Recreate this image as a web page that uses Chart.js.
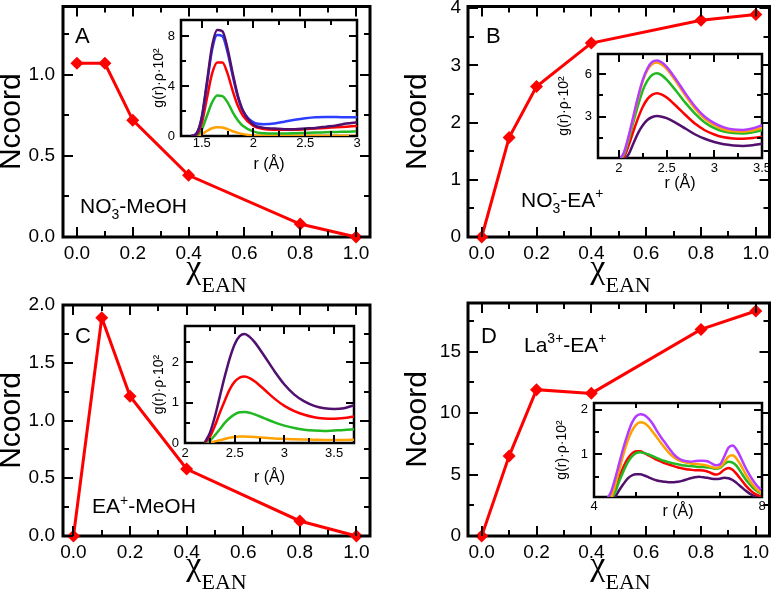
<!DOCTYPE html>
<html>
<head>
<meta charset="utf-8">
<script src="https://cdn.jsdelivr.net/npm/chart.js@4.4.1/dist/chart.umd.min.js"></script>
<style>
  html, body { margin: 0; padding: 0; background: #fff; }
  #page { position: relative; width: 776px; height: 591px; overflow: hidden; background: #fff; }
  #page canvas { position: absolute; }
</style>
</head>
<body>
<div id="page"></div>
<script>
// ---- main panels: coordination number vs mole fraction of EAN
var chiEAN  = [0.0, 0.1, 0.2, 0.4, 0.8, 1.0];
var ncoordA = [1.07, 1.07, 0.72, 0.38, 0.08, 0.0];   // NO3- - MeOH
var ncoordB = [0.0, 1.74, 2.63, 3.39, 3.79, 3.89];   // NO3- - EA+
var ncoordC = [0.0, 1.89, 1.21, 0.58, 0.13, 0.0];    // EA+ - MeOH
var ncoordD = [0.0, 6.5, 11.9, 11.6, 16.8, 18.3];    // La3+ - EA+

// ---- insets: g(r)*rho*10^2
var rA = [1.3, 1.4, 1.45, 1.5, 1.55, 1.6, 1.65, 1.7, 1.75, 1.8, 1.85, 1.9, 2.0, 2.1, 2.2, 2.3, 2.4, 2.5, 2.6, 2.7, 2.8, 2.9, 3.0];
var gA_purple = [null, 0, 0.2, 1.5, 4.3, 7.2, 8.5, 8.4, 7.0, 5.0, 3.2, 2.0, 0.9, 0.65, 0.6, 0.55, 0.55, 0.6, 0.65, 0.75, 0.85, 1.0, 1.1];
var gA_blue   = [null, 0, 0.2, 1.4, 4.1, 6.9, 8.1, 8.0, 6.7, 4.8, 3.1, 2.0, 1.1, 0.95, 1.0, 1.15, 1.3, 1.42, 1.5, 1.52, 1.52, 1.5, 1.5];
var gA_red    = [null, 0, 0.1, 1.0, 3.0, 5.0, 5.9, 5.9, 5.0, 3.6, 2.4, 1.6, 0.8, 0.55, 0.5, 0.5, 0.5, 0.55, 0.6, 0.65, 0.7, 0.75, 0.8];
var gA_green  = [null, 0, 0.05, 0.5, 1.6, 2.7, 3.25, 3.2, 2.7, 1.9, 1.25, 0.8, 0.35, 0.22, 0.2, 0.2, 0.22, 0.25, 0.28, 0.3, 0.33, 0.35, 0.38];
var gA_orange = [null, 0, 0, 0.15, 0.4, 0.62, 0.7, 0.68, 0.55, 0.38, 0.25, 0.15, 0.05, 0.02, 0.02, 0.02, 0.02, 0.02, 0.02, 0.03, 0.03, 0.03, 0.03];

var rB = [2.0, 2.05, 2.1, 2.15, 2.2, 2.25, 2.3, 2.35, 2.4, 2.45, 2.5, 2.6, 2.7, 2.8, 2.9, 3.0, 3.1, 3.2, 3.3, 3.4, 3.5];
var gB_violet = [0, 0.45, 1.6, 3.0, 4.4, 5.6, 6.4, 6.85, 6.95, 6.8, 6.5, 5.6, 4.6, 3.7, 3.0, 2.55, 2.25, 2.1, 2.07, 2.17, 2.4];
var gB_orange = [0, 0.4, 1.5, 2.9, 4.3, 5.5, 6.3, 6.7, 6.8, 6.65, 6.35, 5.45, 4.45, 3.55, 2.85, 2.4, 2.1, 1.97, 1.95, 2.03, 2.22];
var gB_green  = [0, 0.3, 1.3, 2.6, 3.8, 4.85, 5.55, 5.95, 6.05, 5.9, 5.6, 4.8, 3.95, 3.2, 2.6, 2.2, 1.95, 1.85, 1.82, 1.9, 2.05];
var gB_red    = [0, 0.15, 0.95, 1.95, 2.9, 3.7, 4.25, 4.55, 4.65, 4.55, 4.35, 3.75, 3.1, 2.5, 2.05, 1.75, 1.55, 1.47, 1.45, 1.5, 1.6];
var gB_purple = [0, 0, 0.35, 1.1, 1.85, 2.4, 2.78, 2.98, 3.05, 3.0, 2.9, 2.55, 2.15, 1.75, 1.45, 1.22, 1.06, 0.98, 0.95, 1.0, 1.1];

var rC = [2.1, 2.2, 2.25, 2.3, 2.35, 2.4, 2.45, 2.5, 2.55, 2.6, 2.65, 2.7, 2.8, 2.9, 3.0, 3.1, 3.2, 3.3, 3.4, 3.5, 3.6, 3.7];
var gC_purple = [null, 0.02, 0.25, 0.65, 1.15, 1.65, 2.1, 2.45, 2.65, 2.7, 2.63, 2.5, 2.15, 1.78, 1.45, 1.2, 1.03, 0.92, 0.86, 0.84, 0.86, 0.94];
var gC_red    = [null, 0.01, 0.15, 0.42, 0.75, 1.05, 1.33, 1.52, 1.62, 1.65, 1.61, 1.53, 1.32, 1.1, 0.92, 0.79, 0.7, 0.64, 0.61, 0.6, 0.62, 0.66];
var gC_green  = [null, 0, 0.06, 0.19, 0.34, 0.5, 0.62, 0.71, 0.76, 0.77, 0.75, 0.71, 0.61, 0.51, 0.43, 0.37, 0.33, 0.31, 0.3, 0.31, 0.32, 0.34];
var gC_orange = [null, 0, 0.01, 0.04, 0.07, 0.1, 0.13, 0.15, 0.16, 0.16, 0.155, 0.15, 0.13, 0.11, 0.1, 0.09, 0.085, 0.08, 0.075, 0.075, 0.075, 0.08];

var rD = [4.3, 4.4, 4.5, 4.6, 4.7, 4.8, 4.9, 5.0, 5.1, 5.2, 5.3, 5.4, 5.5, 5.6, 5.7, 5.8, 5.9, 6.0, 6.1, 6.2, 6.3, 6.4, 6.5, 6.6, 6.7, 6.8, 6.9, 7.0, 7.1, 7.2, 7.3, 7.4, 7.5, 7.6, 7.7, 7.8, 7.9, 8.0];
var gD_violet = [0, 0.15, 0.45, 0.8, 1.15, 1.45, 1.7, 1.85, 1.9, 1.88, 1.8, 1.68, 1.52, 1.38, 1.25, 1.12, 1.0, 0.92, 0.87, 0.85, 0.84, 0.85, 0.86, 0.86, 0.85, 0.8, 0.76, 0.78, 0.95, 1.15, 1.2, 1.1, 0.92, 0.72, 0.55, 0.4, 0.28, 0.2];
var gD_orange = [null, 0, 0.3, 0.65, 1.0, 1.3, 1.52, 1.66, 1.72, 1.7, 1.62, 1.5, 1.38, 1.25, 1.13, 1.02, 0.94, 0.88, 0.84, 0.82, 0.8, 0.79, 0.78, 0.77, 0.75, 0.72, 0.7, 0.72, 0.82, 0.95, 0.98, 0.9, 0.75, 0.58, 0.43, 0.3, 0.2, 0.14];
var gD_green  = [null, 0, 0.15, 0.4, 0.62, 0.82, 0.95, 1.03, 1.05, 1.03, 1.0, 0.96, 0.92, 0.88, 0.85, 0.82, 0.8, 0.78, 0.76, 0.75, 0.74, 0.73, 0.72, 0.72, 0.71, 0.7, 0.68, 0.7, 0.78, 0.84, 0.82, 0.74, 0.6, 0.46, 0.34, 0.24, 0.17, 0.12];
var gD_red    = [null, 0, 0.2, 0.48, 0.72, 0.9, 1.02, 1.07, 1.07, 1.03, 0.98, 0.93, 0.88, 0.84, 0.8, 0.77, 0.74, 0.71, 0.69, 0.67, 0.66, 0.65, 0.65, 0.64, 0.62, 0.58, 0.55, 0.58, 0.66, 0.7, 0.66, 0.56, 0.44, 0.32, 0.22, 0.14, 0.09, 0.06];
var gD_purple = [null, 0, 0.05, 0.2, 0.34, 0.46, 0.53, 0.56, 0.56, 0.53, 0.49, 0.45, 0.42, 0.4, 0.39, 0.38, 0.38, 0.39, 0.41, 0.44, 0.47, 0.49, 0.5, 0.49, 0.48, 0.46, 0.45, 0.46, 0.48, 0.47, 0.43, 0.36, 0.28, 0.2, 0.13, 0.08, 0.05, 0.03];

var SANS = "'Liberation Sans', Arial, sans-serif";
var SERIF = "'Liberation Serif', 'Times New Roman', serif";
var C_RED = '#ff0000', C_PURPLE = '#52106e', C_BLUE = '#2b3dff', C_GREEN = '#22b822',
    C_ORANGE = '#ffa200', C_VIOLET = '#b43cff';

function tickList(min, max, step) {
  var out = [];
  var n0 = Math.ceil(min / step - 1e-6);
  var n1 = Math.floor(max / step + 1e-6);
  for (var n = n0; n <= n1; n++) out.push(Math.round(n * step * 1e6) / 1e6);
  return out;
}

function isMajor(v, major) {
  var q = v / major;
  return Math.abs(q - Math.round(q)) < 1e-6;
}

function pts(xs, ys) {
  return xs.map(function (x, i) { return {x: x, y: ys[i]}; });
}

// labelled axis (bottom / left); the box and tick marks come from the frame plugin
function axis(pos, ax, st, size, title) {
  var horiz = pos === 'bottom';
  var majors = tickList(ax.min, ax.max, ax.major);
  return {
    type: 'linear', position: pos,
    min: ax.min, max: ax.max,
    afterBuildTicks: function (s) { s.ticks = majors.map(function (v) { return {value: v}; }); },
    afterFit: function (s) {
      if (horiz) s.height = size; else s.width = size;
      s.paddingLeft = 0; s.paddingRight = 0; s.paddingTop = 0; s.paddingBottom = 0;
    },
    border: {display: false},
    grid: {display: false, drawTicks: false, tickLength: 0},
    ticks: {
      autoSkip: false, maxRotation: 0, minRotation: 0,
      padding: ax.pad || 0, color: '#000', font: st.tickFont,
      callback: function (v) { return ax.fmt(v); }
    },
    title: title || {display: false}
  };
}

// box round the plot area with inward major and minor ticks on all four sides
function framePlugin(spec) {
  var st = spec.st;
  var xt = tickList(spec.x.min, spec.x.max, spec.x.minor);
  var yt = tickList(spec.y.min, spec.y.max, spec.y.minor);
  return {
    id: 'frame',
    afterDraw: function (chart) {
      var ctx = chart.ctx, a = chart.chartArea;
      var sx = chart.scales.x, sy = chart.scales.y;
      var w = st.tickWidth, h = w / 2;
      ctx.save();
      ctx.fillStyle = '#000000';
      xt.forEach(function (v) {
        var px = Math.round(sx.getPixelForValue(v));
        var len = isMajor(v, spec.x.major) ? st.tick : st.minorTick;
        ctx.fillRect(px - h, a.bottom - len, w, len);
        ctx.fillRect(px - h, a.top, w, len);
      });
      yt.forEach(function (v) {
        var py = Math.round(sy.getPixelForValue(v));
        var len = isMajor(v, spec.y.major) ? st.tick : st.minorTick;
        ctx.fillRect(a.left, py - h, len, w);
        ctx.fillRect(a.right - len, py - h, len, w);
      });
      ctx.restore();
    },
    beforeDatasetsDraw: function (chart) {
      var ctx = chart.ctx, a = chart.chartArea;
      ctx.save();
      ctx.strokeStyle = '#000';
      ctx.lineWidth = st.border;
      ctx.strokeRect(a.left, a.top, a.right - a.left, a.bottom - a.top);
      ctx.restore();
    }
  };
}

// text with sub/superscripts drawn on the canvas
function textPlugin(items) {
  return {
    id: 'richText',
    afterDraw: function (chart) {
      var ctx = chart.ctx;
      items.forEach(function (it) {
        ctx.save();
        ctx.fillStyle = '#000';
        ctx.textBaseline = 'alphabetic';
        ctx.textAlign = 'left';
        var w = 0;
        it.parts.forEach(function (p) { ctx.font = p.f; if (!p.keep) w += ctx.measureText(p.t).width; });
        var x = it.center ? it.x - w / 2 : it.x;
        it.parts.forEach(function (p) {
          ctx.font = p.f;
          ctx.fillText(p.t, x, it.y + (p.dy || 0));
          if (!p.keep) x += ctx.measureText(p.t).width;
        });
        ctx.restore();
      });
    }
  };
}

function bgPlugin(on) {
  return {
    id: 'insetBg',
    beforeDraw: function (chart) {
      if (!on) return;
      var a = chart.chartArea, ctx = chart.ctx;
      ctx.save();
      ctx.fillStyle = '#fff';
      ctx.fillRect(a.left, a.top, a.right - a.left, a.bottom - a.top);
      ctx.restore();
    }
  };
}

function addCanvas(id, g) {
  var c = document.createElement('canvas');
  c.id = id;
  c.width = g.w; c.height = g.h;
  c.style.left = g.x + 'px'; c.style.top = g.y + 'px';
  c.style.width = g.w + 'px'; c.style.height = g.h + 'px';
  document.getElementById('page').appendChild(c);
  return c;
}

function makeChart(id, g, area, spec, datasets, texts, inset) {
  var c = addCanvas(id, g);
  var left = area.l - g.x, top = area.t - g.y, right = g.x + g.w - area.r, bottom = g.y + g.h - area.b;
  var items = (texts || []).map(function (t) {
    return {x: t.x - g.x, y: t.y - g.y, center: t.center, parts: t.parts};
  });
  return new Chart(c.getContext('2d'), {
    type: 'line',
    data: {datasets: datasets},
    options: {
      responsive: false, animation: false, events: [],
      layout: {padding: {top: top, right: right, left: 0, bottom: 0}},
      plugins: {legend: {display: false}, tooltip: {enabled: false}},
      scales: {
        x: axis('bottom', spec.x, spec.st, bottom, spec.xTitle),
        y: axis('left', spec.y, spec.st, left, spec.yTitle)
      }
    },
    plugins: [bgPlugin(!!inset), framePlugin(spec), textPlugin(items)]
  });
}

var mainStyle = {border: 3, tick: 10, minorTick: 6, tickWidth: 2, tickFont: {family: SANS, size: 19}};
var insetStyle = {border: 2.5, tick: 8, minorTick: 5, tickWidth: 2, tickFont: {family: SANS, size: 13}};

function fmt1(v) { return v.toFixed(1); }
function fmtN(v) { return String(v); }

function mainSeries(ys) {
  return [{
    data: pts(chiEAN, ys), borderColor: C_RED, backgroundColor: C_RED, borderWidth: 3,
    pointStyle: 'rectRot', pointRadius: 6.5, pointBackgroundColor: C_RED, pointBorderWidth: 0,
    tension: 0, clip: false
  }];
}

function curve(xs, ys, color) {
  return {data: pts(xs, ys), borderColor: color, borderWidth: 2.5, pointRadius: 0,
          cubicInterpolationMode: 'monotone', fill: false};
}

function nTitle(pad) {
  return {display: true, text: 'Ncoord', color: '#000', font: {family: SANS, size: 30, lineHeight: 0.8},
          padding: {top: pad, bottom: 0}};
}
function gTitle(pad) {
  return {display: true, text: 'g(r)\u00b7\u03c1\u00b710\u00b2', color: '#000', font: {family: SANS, size: 14, lineHeight: 1.2},
          padding: {top: pad, bottom: 0}};
}
function rTitle(pad) {
  return {display: true, text: 'r (\u00c5)', color: '#000', font: {family: SANS, size: 16, lineHeight: 1.2},
          padding: {top: 0, bottom: pad}};
}

function chiLabel(cx, yBase) {
  return {x: cx, y: yBase, center: true, parts: [
    {t: '\u03c7', f: '34px ' + SERIF},
    {t: 'EAN', f: '22px ' + SERIF, dy: 14}
  ]};
}
function letter(s, x, y) {
  return {x: x, y: y, parts: [{t: s, f: '22px ' + SANS}]};
}
var F_ANN = '21px ' + SANS, F_SUB = '14px ' + SANS;

// ---------- panel A
makeChart('mainA', {x: 0, y: 0, w: 388, h: 295}, {l: 63, t: 6, r: 370, b: 237}, {
  st: mainStyle,
  x: {min: -0.05, max: 1.05, major: 0.2, minor: 0.1, fmt: fmt1, pad: 5},
  y: {min: 0, max: 1.42, major: 0.5, minor: 0.25, fmt: fmt1, pad: 8},
  yTitle: nTitle(0)
}, mainSeries(ncoordA), [
  letter('A', 75, 43),
  {x: 80, y: 213, parts: [{t: 'NO', f: F_ANN}, {t: '-', f: F_SUB, dy: -9, keep: true},
                          {t: '3', f: F_SUB, dy: 6}, {t: '-MeOH', f: F_ANN}]},
  chiLabel(216.5, 278)
]);

makeChart('insetA', {x: 140, y: 12, w: 230, h: 166}, {l: 181, t: 20, r: 357, b: 136}, {
  st: insetStyle,
  x: {min: 1.3, max: 3.0, major: 0.5, minor: 0.25, fmt: fmtN, pad: 0},
  y: {min: 0, max: 9.3, major: 4, minor: 2, fmt: fmtN, pad: 6},
  yTitle: gTitle(11), xTitle: rTitle(4)
}, [curve(rA, gA_purple, C_PURPLE), curve(rA, gA_blue, C_BLUE), curve(rA, gA_red, C_RED),
    curve(rA, gA_green, C_GREEN), curve(rA, gA_orange, C_ORANGE)], [], true);

// ---------- panel B
makeChart('mainB', {x: 388, y: 0, w: 388, h: 295}, {l: 468, t: 6, r: 773, b: 237}, {
  st: mainStyle,
  x: {min: -0.05, max: 1.05, major: 0.2, minor: 0.1, fmt: fmt1, pad: 5},
  y: {min: 0, max: 4.03, major: 1, minor: 0.5, fmt: fmtN, pad: 7},
  yTitle: nTitle(18)
}, mainSeries(ncoordB), [
  letter('B', 486, 43),
  {x: 521, y: 207, parts: [{t: 'NO', f: F_ANN}, {t: '-', f: F_SUB, dy: -9, keep: true},
                           {t: '3', f: F_SUB, dy: 6}, {t: '-EA', f: F_ANN}, {t: '+', f: F_SUB, dy: -9}]},
  chiLabel(620.5, 278)
]);

makeChart('insetB', {x: 548, y: 46, w: 228, h: 152}, {l: 598, t: 54, r: 762, b: 158}, {
  st: insetStyle,
  x: {min: 1.78, max: 3.5, major: 0.5, minor: 0.25, fmt: fmtN, pad: 3},
  y: {min: 0.1, max: 7.4, major: 3, minor: 1.5, fmt: fmtN, pad: 6},
  yTitle: gTitle(8), xTitle: rTitle(5)
}, [curve(rB, gB_violet, C_VIOLET), curve(rB, gB_orange, C_ORANGE), curve(rB, gB_green, C_GREEN),
    curve(rB, gB_red, C_RED), curve(rB, gB_purple, C_PURPLE)], [], true);

// ---------- panel C
makeChart('mainC', {x: 0, y: 295, w: 388, h: 296}, {l: 63, t: 305, r: 370, b: 536}, {
  st: mainStyle,
  x: {min: -0.037, max: 1.048, major: 0.2, minor: 0.1, fmt: fmt1, pad: 5},
  y: {min: 0, max: 2.0, major: 0.5, minor: 0.25, fmt: fmt1, pad: 8},
  yTitle: nTitle(0)
}, mainSeries(ncoordC), [
  letter('C', 75, 343),
  {x: 92, y: 513, parts: [{t: 'EA', f: F_ANN}, {t: '+', f: F_SUB, dy: -8}, {t: '-MeOH', f: F_ANN}]},
  chiLabel(216.5, 575)
]);

makeChart('insetC', {x: 140, y: 316, w: 230, h: 174}, {l: 185, t: 326, r: 354, b: 443}, {
  st: insetStyle,
  x: {min: 2.0, max: 3.7, major: 0.5, minor: 0.25, fmt: fmtN, pad: 3},
  y: {min: 0, max: 2.9, major: 1, minor: 0.5, fmt: fmtN, pad: 6},
  yTitle: gTitle(10.5), xTitle: rTitle(3)
}, [curve(rC, gC_purple, C_PURPLE), curve(rC, gC_red, C_RED), curve(rC, gC_green, C_GREEN),
    curve(rC, gC_orange, C_ORANGE)], [], true);

// ---------- panel D
makeChart('mainD', {x: 388, y: 295, w: 388, h: 296}, {l: 468, t: 303, r: 773, b: 536}, {
  st: mainStyle,
  x: {min: -0.05, max: 1.05, major: 0.2, minor: 0.1, fmt: fmt1, pad: 5},
  y: {min: 0, max: 18.95, major: 5, minor: 2.5, fmt: fmtN, pad: 7},
  yTitle: nTitle(18)
}, mainSeries(ncoordD), [
  letter('D', 481, 343),
  {x: 524, y: 352, parts: [{t: 'La', f: F_ANN}, {t: '3+', f: F_SUB, dy: -9}, {t: '-EA', f: F_ANN},
                           {t: '+', f: F_SUB, dy: -9}]},
  chiLabel(620.5, 575)
]);

makeChart('insetD', {x: 540, y: 395, w: 236, h: 130}, {l: 594, t: 403, r: 762, b: 497}, {
  st: insetStyle,
  x: {min: 4, max: 8, major: 4, minor: 1, fmt: fmtN, pad: 2},
  y: {min: 0.05, max: 2.15, major: 1, minor: 0.5, fmt: fmtN, pad: 6},
  yTitle: gTitle(14), xTitle: rTitle(3.5)
}, [curve(rD, gD_violet, C_VIOLET), curve(rD, gD_orange, C_ORANGE), curve(rD, gD_green, C_GREEN),
    curve(rD, gD_red, C_RED), curve(rD, gD_purple, C_PURPLE)], [], true);
</script>
</body>
</html>
